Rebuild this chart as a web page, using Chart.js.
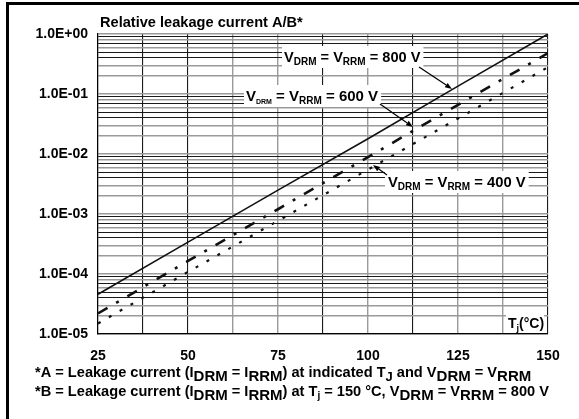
<!DOCTYPE html>
<html><head><meta charset="utf-8">
<script src="https://cdn.jsdelivr.net/npm/chart.js@4"></script>
<style>html,body{margin:0;padding:0;background:#fff;} canvas{display:block;}</style>
</head><body>
<canvas id="c" width="579" height="419"></canvas>
<script>
// ---- data ----
const temperatures = [25, 50, 75, 100, 125, 150];
const v800 = [4.6e-5, 3.4e-4, 2.5e-3, 1.8e-2, 0.135, 1.0];
const v600 = [2.2e-5, 1.65e-4, 1.2e-3, 8.9e-3, 6.6e-2, 0.48];
const v400 = [1.5e-5, 1.08e-4, 7.7e-4, 5.5e-3, 3.9e-2, 0.28];
const xTicks = [25, 37.5, 50, 62.5, 75, 87.5, 100, 112.5, 125, 137.5, 150];
const xTickLabels = ['25', '', '50', '', '75', '', '100', '', '125', '', '150'];
const yDecades = [1e-5, 1e-4, 1e-3, 1e-2, 1e-1, 1];
const yTickLabels = ['1.0E-05', '1.0E-04', '1.0E-03', '1.0E-02', '1.0E-01', '1.0E+00'];
const yMinorMantissas = [2, 3, 4, 5, 6, 7, 8, 9];

const FAMILY = '"Liberation Sans", Arial, Helvetica, sans-serif';
const BLACK = '#1a1a1a', GRAY = '#9a9a9a';

// y tick list (decades + minor lines)
const yTickList = [];
yDecades.forEach((d, i) => {
  yTickList.push({ value: d, label: yTickLabels[i], mant: 1 });
  if (i < yDecades.length - 1) {
    yMinorMantissas.forEach(m => yTickList.push({ value: m * d, label: '', mant: m }));
  }
});
const minorColor = { 1: GRAY, 2: GRAY, 3: GRAY, 4: BLACK, 5: BLACK, 6: GRAY, 7: BLACK, 8: GRAY, 9: BLACK };
const xGridColor = [BLACK, BLACK, BLACK, GRAY, GRAY, BLACK, GRAY, BLACK, GRAY, GRAY, BLACK];

const pts = arr => temperatures.map((t, i) => ({ x: t, y: arr[i] }));

function drawRich(ctx, x, y, parts, measureOnly) {
  let cx = x;
  for (const p of parts) {
    ctx.font = `bold ${p.size}px ${FAMILY}`;
    if (!measureOnly) ctx.fillText(p.t, cx, y + (p.dy || 0));
    cx += ctx.measureText(p.t).width;
  }
  return cx - x;
}
function label(ctx, x, y, parts, padL, padR, boxTop, boxH) {
  const w = drawRich(ctx, x, y, parts, true);
  ctx.fillStyle = '#fff';
  ctx.fillRect(x - padL, boxTop, w + padL + padR, boxH);
  ctx.fillStyle = '#000';
  drawRich(ctx, x, y, parts, false);
}
function arrow(ctx, x1, y1, x2, y2) {
  ctx.save();
  ctx.strokeStyle = '#000'; ctx.fillStyle = '#000'; ctx.lineWidth = 1.2;
  const a = Math.atan2(y2 - y1, x2 - x1), L = 7, W = 2.6;
  const bx = x2 - L * Math.cos(a), by = y2 - L * Math.sin(a);
  ctx.beginPath(); ctx.moveTo(x1, y1); ctx.lineTo(bx, by); ctx.stroke();
  ctx.beginPath();
  ctx.moveTo(x2, y2);
  ctx.lineTo(bx + W * Math.sin(a), by - W * Math.cos(a));
  ctx.lineTo(bx - W * Math.sin(a), by + W * Math.cos(a));
  ctx.closePath(); ctx.fill();
  ctx.restore();
}

const FN = 14.6, FS = 15;
const textPlugin = {
  id: 'texts',
  afterDraw(chart) {
    const ctx = chart.ctx;
    ctx.save();
    ctx.textBaseline = 'alphabetic';
    ctx.textAlign = 'left';
    ctx.fillStyle = '#000';
    // frame
    ctx.fillRect(6, 2, 3, 417);
    ctx.fillRect(6, 2, 573, 3);
    // title
    drawRich(ctx, 100, 27, [{ t: 'Relative leakage current A/B*', size: 14.6 }]);
    // series labels
    label(ctx, 284, 62, [
      { t: 'V', size: 14.6 }, { t: 'DRM', size: 10, dy: 3 }, { t: ' = V', size: 14.6 },
      { t: 'RRM', size: 10, dy: 3 }, { t: ' = 800 V', size: 14.6 }], 2, 3, 46, 22);
    label(ctx, 246, 101, [
      { t: 'V', size: 15 }, { t: 'DRM', size: 7, dy: 3 }, { t: ' = V', size: 15 },
      { t: 'RRM', size: 10, dy: 3 }, { t: ' = 600 V', size: 15 }], 2, 3, 85, 22);
    label(ctx, 388, 187, [
      { t: 'V', size: 14.8 }, { t: 'DRM', size: 10, dy: 3 }, { t: ' = V', size: 14.8 },
      { t: 'RRM', size: 10, dy: 3 }, { t: ' = 400 V', size: 14.8 }], 3, 3, 171, 22);
    label(ctx, 508, 328, [
      { t: 'T', size: 14 }, { t: 'j', size: 9, dy: 3 }, { t: '(°C)', size: 14 }], 2, 0, 312, 21);
    // arrows
    arrow(ctx, 419, 67, 452, 89);
    arrow(ctx, 380, 104, 413, 127);
    arrow(ctx, 387, 175, 373, 165);
    // footnotes
    drawRich(ctx, 35, 377, [
      { t: '*A = Leakage current (I', size: FN }, { t: 'DRM', size: FS, dy: 4 },
      { t: ' = I', size: FN }, { t: 'RRM', size: FS, dy: 4 },
      { t: ') at indicated T', size: FN }, { t: 'J', size: 13, dy: 4 },
      { t: ' and V', size: FN }, { t: 'DRM', size: FS, dy: 4 },
      { t: ' = V', size: FN }, { t: 'RRM', size: FS, dy: 4 }]);
    drawRich(ctx, 35, 396, [
      { t: '*B = Leakage current (I', size: FN }, { t: 'DRM', size: FS, dy: 4 },
      { t: ' = I', size: FN }, { t: 'RRM', size: FS, dy: 4 },
      { t: ') at T', size: FN }, { t: 'j', size: 10, dy: 3 },
      { t: ' = 150 °C, V', size: FN }, { t: 'DRM', size: FS, dy: 4 },
      { t: ' = V', size: FN }, { t: 'RRM', size: FS, dy: 4 },
      { t: ' = 800 V', size: FN }]);
    ctx.restore();
  }
};

new Chart(document.getElementById('c'), {
  type: 'line',
  data: {
    datasets: [
      { label: '800 V', data: pts(v800), borderColor: '#111', borderWidth: 1.6, pointRadius: 0, tension: 0, fill: false },
      { label: '600 V', data: pts(v600), borderColor: '#111', borderWidth: 2.6, borderDash: [11, 10, 3, 10], pointRadius: 0, tension: 0, fill: false },
      { label: '400 V', data: pts(v400), borderColor: '#111', borderWidth: 2.2, borderDash: [3, 9.5], pointRadius: 0, tension: 0, fill: false }
    ]
  },
  options: {
    responsive: false,
    animation: false,
    events: [],
    layout: { padding: { top: 34, right: 31, left: 0, bottom: 0 } },
    plugins: { legend: { display: false }, tooltip: { enabled: false }, title: { display: false } },
    scales: {
      x: {
        type: 'linear', min: 25, max: 150,
        afterBuildTicks: s => { s.ticks = xTicks.map(v => ({ value: v })); },
        afterFit: s => { s.height = 85; },
        ticks: {
          autoSkip: false, maxRotation: 0, padding: 14, color: '#000',
          font: { family: FAMILY, size: 14, weight: 'bold' },
          callback: (v, i) => xTickLabels[i]
        },
        grid: {
          drawTicks: false,
          color: c => xGridColor[c.index] || BLACK,
          lineWidth: c => (xGridColor[c.index] === GRAY ? 1.4 : 1.1)
        },
        border: { display: true, color: '#000', width: 1.2 }
      },
      y: {
        type: 'logarithmic', min: 1e-5, max: 1,
        afterBuildTicks: s => { s.ticks = yTickList.map(t => ({ value: t.value })); },
        afterFit: s => { s.width = 98; },
        ticks: {
          autoSkip: false, padding: 10, color: '#000',
          font: { family: FAMILY, size: 14, weight: 'bold' },
          callback: (v, i) => (yTickList[i] ? yTickList[i].label : '')
        },
        grid: {
          drawTicks: false,
          color: c => { const t = yTickList[c.index]; return t ? minorColor[t.mant] : BLACK; },
          lineWidth: c => { const t = yTickList[c.index]; return t && minorColor[t.mant] === GRAY ? 1.6 : 1.1; }
        },
        border: { display: true, color: '#000', width: 1.2 }
      }
    }
  },
  plugins: [textPlugin]
});
</script>
</body></html>
